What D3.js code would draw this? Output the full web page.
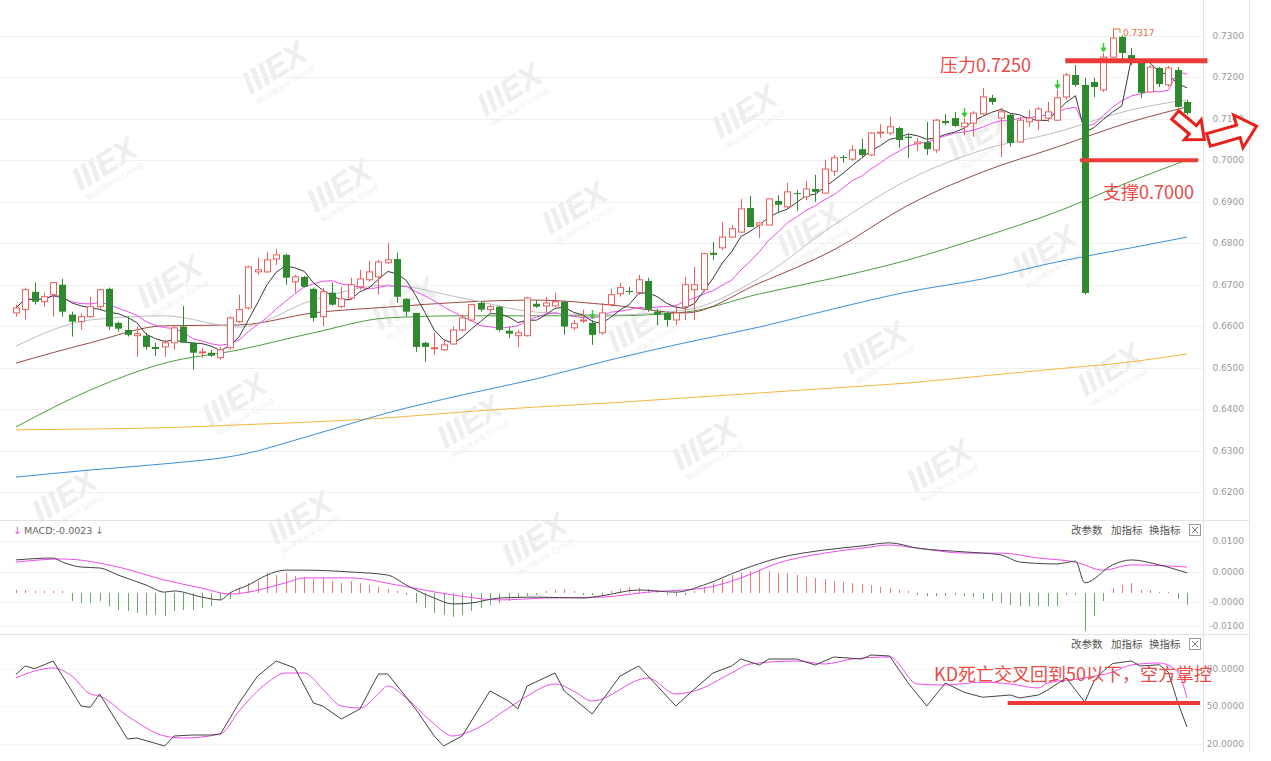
<!DOCTYPE html>
<html><head><meta charset="utf-8">
<script src="https://cdn.jsdelivr.net/npm/d3@7"></script>
<style>body{margin:0;background:#fff;} svg{display:block;font-family:"DejaVu Sans",sans-serif;}</style>
</head><body><svg id="c" width="1271" height="761"></svg>
<script>
// ---------- candle data ----------
const opens = [0.6632,0.6640,0.6683,0.6659,0.6676,0.6700,0.6628,0.6611,0.6623,0.6647,
0.6690,0.6608,0.6591,0.6577,0.6577,0.6550,0.6550,0.6560,0.6599,0.6560,
0.6536,0.6536,0.6524,0.6548,0.6611,0.6644,0.6731,0.6731,0.6762,0.6772,
0.6707,0.6719,0.6690,0.6623,0.6681,0.6647,0.6668,0.6695,0.6712,0.6719,
0.6753,0.6762,0.6666,0.6632,0.6560,0.6547,0.6543,0.6557,0.6591,0.6615,
0.6656,0.6640,0.6647,0.6589,0.6577,0.6577,0.6654,0.6649,0.6649,0.6659,
0.6596,0.6613,0.6608,0.6584,0.6652,0.6678,0.6685,0.6681,0.6709,0.6635,
0.6632,0.6615,0.6647,0.6688,0.6688,0.6777,0.6789,0.6815,0.6827,0.6885,
0.6844,0.6844,0.6902,0.6888,0.6921,0.6912,0.6931,0.6921,0.6974,0.7008,
0.7003,0.7027,0.7013,0.7066,0.7066,0.7078,0.7057,0.7040,0.7044,0.7025,
0.7095,0.7102,0.7081,0.7090,0.7112,0.7151,0.7102,0.7110,0.7044,0.7093,
0.7097,0.7102,0.7097,0.7153,0.7206,0.7182,0.7189,0.7170,0.7249,0.7298,
0.7254,0.7237,0.7165,0.7223,0.7182,0.7218,0.7141];
const highs = [0.6652,0.6693,0.6705,0.6681,0.6707,0.6714,0.6635,0.6630,0.6671,0.6690,
0.6693,0.6611,0.6623,0.6599,0.6584,0.6560,0.6567,0.6603,0.6649,0.6562,
0.6548,0.6543,0.6550,0.6623,0.6676,0.6746,0.6765,0.6779,0.6786,0.6775,
0.6724,0.6721,0.6693,0.6693,0.6705,0.6695,0.6717,0.6736,0.6757,0.6760,
0.6801,0.6777,0.6668,0.6632,0.6562,0.6584,0.6567,0.6599,0.6628,0.6654,
0.6659,0.6652,0.6649,0.6599,0.6591,0.6671,0.6663,0.6671,0.6681,0.6661,
0.6615,0.6640,0.6615,0.6656,0.6690,0.6705,0.6695,0.6724,0.6717,0.6642,
0.6635,0.6652,0.6719,0.6743,0.6777,0.6803,0.6851,0.6844,0.6907,0.6914,
0.6851,0.6909,0.6916,0.6946,0.6928,0.6950,0.6965,0.7001,0.7013,0.7013,
0.7037,0.7052,0.7068,0.7088,0.7105,0.7081,0.7064,0.7054,0.7093,0.7100,
0.7112,0.7117,0.7102,0.7119,0.7175,0.7158,0.7126,0.7112,0.7105,0.7122,
0.7129,0.7141,0.7170,0.7211,0.7230,0.7199,0.7199,0.7259,0.7317,0.7302,
0.7271,0.7242,0.7230,0.7225,0.7228,0.7225,0.7146];
const lows = [0.6623,0.6616,0.6652,0.6647,0.6623,0.6623,0.6575,0.6591,0.6620,0.6642,
0.6591,0.6587,0.6575,0.6526,0.6543,0.6528,0.6526,0.6543,0.6560,0.6495,
0.6524,0.6526,0.6519,0.6543,0.6608,0.6640,0.6724,0.6729,0.6748,0.6700,
0.6681,0.6693,0.6611,0.6599,0.6649,0.6644,0.6663,0.6688,0.6707,0.6676,
0.6750,0.6656,0.6623,0.6538,0.6514,0.6531,0.6540,0.6555,0.6587,0.6611,
0.6635,0.6632,0.6587,0.6572,0.6550,0.6575,0.6644,0.6632,0.6647,0.6579,
0.6591,0.6608,0.6555,0.6579,0.6647,0.6671,0.6676,0.6676,0.6635,0.6603,
0.6599,0.6603,0.6615,0.6615,0.6683,0.6760,0.6784,0.6813,0.6825,0.6839,
0.6813,0.6844,0.6873,0.6883,0.6878,0.6904,0.6900,0.6919,0.6962,0.6994,
0.6999,0.7008,0.7011,0.7054,0.7061,0.7030,0.7006,0.7023,0.7013,0.7018,
0.7085,0.7081,0.7061,0.7057,0.7110,0.7134,0.7008,0.7033,0.7042,0.7081,
0.7073,0.7093,0.7095,0.7146,0.7177,0.6676,0.7153,0.7165,0.7247,0.7235,
0.7230,0.7151,0.7163,0.7177,0.7177,0.7127,0.7110];
const closes = [0.6644,0.6688,0.6659,0.6671,0.6705,0.6635,0.6611,0.6623,0.6647,0.6688,
0.6599,0.6594,0.6579,0.6582,0.6550,0.6545,0.6560,0.6596,0.6560,0.6536,
0.6538,0.6529,0.6543,0.6620,0.6640,0.6743,0.6736,0.6760,0.6772,0.6717,
0.6719,0.6695,0.6620,0.6683,0.6652,0.6666,0.6700,0.6714,0.6731,0.6755,
0.6760,0.6671,0.6635,0.6550,0.6550,0.6548,0.6555,0.6591,0.6620,0.6652,
0.6640,0.6647,0.6591,0.6582,0.6584,0.6668,0.6647,0.6656,0.6659,0.6599,
0.6606,0.6615,0.6579,0.6632,0.6676,0.6693,0.6683,0.6712,0.6640,0.6628,
0.6615,0.6632,0.6700,0.6700,0.6775,0.6772,0.6815,0.6835,0.6883,0.6839,
0.6849,0.6907,0.6893,0.6924,0.6919,0.6931,0.6924,0.6979,0.7006,0.7006,
0.7025,0.7013,0.7066,0.7068,0.7081,0.7049,0.7054,0.7044,0.7027,0.7097,
0.7090,0.7083,0.7090,0.7114,0.7153,0.7141,0.7117,0.7042,0.7097,0.7102,
0.7124,0.7117,0.7151,0.7206,0.7182,0.6680,0.7177,0.7249,0.7295,0.7259,
0.7237,0.7163,0.7225,0.7184,0.7223,0.7129,0.7114];

// long moving averages, read at sample candle indices
const maIdx   = [0,8,16,24,32,40,48,56,64,72,80,88,96,104,112,120,126];
const ma20    = [0.6552,0.6615,0.6625,0.6598,0.6663,0.6699,0.6668,0.6634,0.6627,0.6639,0.6716,0.6844,0.6953,0.7025,0.7068,0.7122,0.7146];
const ma30    = [0.6511,0.6560,0.6601,0.6603,0.6632,0.6646,0.6658,0.6663,0.6651,0.6632,0.6704,0.6784,0.6892,0.6972,0.7032,0.7093,0.7129];
const ma60    = [0.6357,0.6446,0.6511,0.6543,0.6584,0.6620,0.6625,0.6625,0.6625,0.6634,0.6678,0.6716,0.6760,0.6815,0.6876,0.6950,0.7001];
const ma120   = [0.6236,0.6253,0.6268,0.6289,0.6338,0.6391,0.6434,0.6473,0.6519,0.6560,0.6598,0.6642,0.6683,0.6714,0.6755,0.6789,0.6815];
const ma250   = [0.6350,0.6352,0.6355,0.6362,0.6369,0.6379,0.6393,0.6405,0.6415,0.6427,0.6439,0.6451,0.6463,0.6480,0.6497,0.6514,0.6533];

const priceTicks = [0.62,0.63,0.64,0.65,0.66,0.67,0.68,0.69,0.70,0.71,0.72,0.73];

// MACD
const difIdx = [0,4,5,7,9,11,14,16,17,20,22,23,25,27,29,31,36,40,42,45,47,49,52,56,61,63,67,71,74,78,82,87,91,94,97,102,106,108,112,114,115,118,120,123,126];
const difVal = [0.0039,0.0045,0.0032,0.0016,0.0013,-0.0010,-0.0042,-0.0065,-0.0061,-0.0081,-0.0090,-0.0068,-0.0042,-0.0010,0.0006,0.0006,0.0000,-0.0010,-0.0042,-0.0084,-0.0103,-0.0100,-0.0084,-0.0081,-0.0084,-0.0077,-0.0058,-0.0065,-0.0042,0.0006,0.0045,0.0071,0.0084,0.0094,0.0077,0.0065,0.0055,0.0032,0.0026,0.0035,-0.0035,0.0023,0.0039,0.0023,-0.0003];
const deaIdx = [0,5,11,16,20,23,25,29,31,36,41,47,52,57,63,68,74,78,82,87,91,94,97,102,106,110,114,117,120,126];
const deaVal = [0.0032,0.0042,0.0016,-0.0026,-0.0052,-0.0071,-0.0065,-0.0035,-0.0019,-0.0019,-0.0042,-0.0074,-0.0090,-0.0084,-0.0081,-0.0065,-0.0052,-0.0019,0.0029,0.0061,0.0077,0.0087,0.0077,0.0061,0.0061,0.0045,0.0032,0.0006,0.0023,0.0016];
const macdHist = [0.0008,0.0008,0.0005,0.0005,0.0005,0.0005,-0.0020,-0.0025,-0.0025,-0.0020,
-0.0033,-0.0043,-0.0045,-0.0050,-0.0055,-0.0055,-0.0058,-0.0045,-0.0043,-0.0043,
-0.0038,-0.0033,-0.0018,-0.0015,0.0013,0.0025,0.0030,0.0050,0.0045,0.0050,
0.0043,0.0040,0.0035,0.0038,0.0030,0.0025,0.0030,0.0025,0.0020,0.0015,
0.0010,0.0005,-0.0005,-0.0025,-0.0038,-0.0050,-0.0055,-0.0060,-0.0055,-0.0045,
-0.0038,-0.0030,-0.0025,-0.0020,-0.0013,-0.0008,-0.0005,0.0005,0.0008,0.0010,
0.0005,-0.0005,-0.0005,-0.0008,0.0005,0.0010,0.0015,0.0013,0.0010,0.0008,
-0.0005,-0.0008,-0.0005,0.0005,0.0015,0.0025,0.0035,0.0045,0.0050,0.0055,
0.0058,0.0055,0.0050,0.0050,0.0045,0.0040,0.0038,0.0035,0.0030,0.0028,
0.0025,0.0023,0.0020,0.0015,0.0013,0.0008,0.0005,-0.0005,-0.0008,-0.0008,
-0.0008,-0.0005,-0.0008,-0.0010,-0.0015,-0.0020,-0.0025,-0.0030,-0.0033,-0.0033,
-0.0033,-0.0033,-0.0033,-0.0005,-0.0005,-0.0095,-0.0058,-0.0020,0.0013,0.0020,
0.0025,0.0008,0.0008,0.0003,0.0003,-0.0015,-0.0030];
const macdTickVals = [0.0100,0.0000,-0.0097,-0.0174];
const macdTickLabels = ["0.0100","0.0000","-0.0000","-0.0100"];

// KD
const kIdx = [0,1,2,4,5,7,8,9,12,13,16,17,19,21,22,24,26,28,30,32,33,35,37,39,40,43,45,46,48,51,53,54,55,58,59,62,65,67,69,71,73,75,77,78,80,81,84,86,88,91,92,94,96,98,100,102,104,107,108,110,111,113,114,115,116,117,118,120,121,123,124,125,126];
const kVal = [75.4,82,79.8,86,74,50,49,59.6,23.6,24.4,18,26,26.8,26.8,27.6,52.4,74,86,80.4,52.4,50,39.6,47.6,75.6,75.6,47.6,26,18,26,62,54,47.6,66,76.4,62,43.6,74,82,66,50,63.6,76.4,82,87.6,82.8,87.6,87.6,82.8,89.2,87.6,90.8,90,68.4,50,68.4,61,57,58.8,56.4,58.8,62.8,72.4,62.8,53.2,70,78,84,86,82,83,77,53,33.2];
const dIdx = [0,2,4,6,8,9,12,16,18,22,24,27,29,31,33,35,37,39,40,42,45,47,49,53,55,58,60,62,68,71,73,77,79,84,87,90,94,97,100,104,107,110,111,115,118,120,123,125,126];
const dVal = [72.4,78,80.4,74,59.6,58,42,26,24.4,27.6,46,68.4,76.4,76.4,63.6,50,48.4,59.6,66,56.4,35.6,26,30,48.4,58,67.6,62,54,72.4,59.6,62,76.4,83.6,86,83.6,87.6,89.2,67.6,66.8,69,67.6,64.4,68.4,72.4,77.2,82.8,84.4,77.2,56.4];
const kdTickVals = [80,50,20];
const kdTickLabels = ["80.0000","50.0000","20.0000"];

// annotations
const resistLevel = 0.7240, supportLevel = 0.7000, kdLevel = 52.4;
const signalIdx = [62,102,112,117];

// ---------- drawing ----------
const svg = d3.select('#c');
const n = closes.length;
const x = d3.scaleLinear().domain([0, n-1]).range([16, 1187]);
const y = d3.scaleLinear().domain([0.62, 0.73]).range([492, 36]);
const yMacd = d3.scaleLinear().domain([0, 0.01]).range([572, 541]);
const yHist = d3.scaleLinear().domain([-0.0093, 0.0093]).range([630, 556]);
const yKd = d3.scaleLinear().domain([20, 80]).range([743.5, 668.5]);
const red = "#e9605c", green = "#2f8a2f";

// watermarks
const wm = svg.append('g');
for (let r=-1;r<=5;r++) for (let c=-1;c<=5;c++){
  const cx = 45 + c*235 + r*65, cy = 55 + c*22 + r*118;
  if (cx<60||cx>1130||cy<50||cy>560) continue;
  const g = wm.append('g').attr('transform',`translate(${cx},${cy}) rotate(-32)`);
  g.append('text').attr('text-anchor','middle').attr('font-family','Liberation Sans').attr('font-weight','bold').attr('font-style','italic')
   .attr('font-size',32).attr('fill','#eeeeee').text('IIIEX');
  g.append('text').attr('text-anchor','middle').attr('y',12).attr('font-size',8).attr('fill','#f0f0f0').text('MultiBank Group');
}

// frame
const frame = svg.append('g').attr('stroke','#e2e2e2').attr('fill','none');
frame.append('line').attr('x1',0).attr('x2',1249).attr('y1',520.5).attr('y2',520.5);
frame.append('line').attr('x1',0).attr('x2',1249).attr('y1',634.5).attr('y2',634.5);
frame.append('line').attr('x1',1203.5).attr('x2',1203.5).attr('y1',0).attr('y2',752);
frame.append('line').attr('x1',1249.5).attr('x2',1249.5).attr('y1',0).attr('y2',752);

// grid + price axis
const grid = svg.append('g');
priceTicks.forEach(v=>{
  grid.append('line').attr('x1',0).attr('x2',1203).attr('y1',Math.round(y(v))+0.5).attr('y2',Math.round(y(v))+0.5).attr('stroke','#f0f0f0');
  grid.append('text').attr('x',1244).attr('y',y(v)+3).attr('text-anchor','end').attr('font-size',9).attr('fill','#9a9a9a').text(v.toFixed(4));
});
macdTickVals.forEach((v,i)=>{
  grid.append('line').attr('x1',0).attr('x2',1203).attr('y1',Math.round(yMacd(v))+0.5).attr('y2',Math.round(yMacd(v))+0.5).attr('stroke','#f2f2f2');
  grid.append('text').attr('x',1244).attr('y',yMacd(v)+3).attr('text-anchor','end').attr('font-size',9).attr('fill','#9a9a9a').text(macdTickLabels[i]);
});
kdTickVals.forEach((v,i)=>{
  grid.append('line').attr('x1',0).attr('x2',1203).attr('y1',Math.round(yKd(v))+0.5).attr('y2',Math.round(yKd(v))+0.5).attr('stroke','#f0f0f0').attr('stroke-dasharray','2,2');
  grid.append('text').attr('x',1244).attr('y',yKd(v)+3).attr('text-anchor','end').attr('font-size',9).attr('fill','#9a9a9a').text(kdTickLabels[i]);
});

// long MAs
const sampled = (arr)=> maIdx.map((k,i)=>[k, arr[i]]);
const lineP = d3.line().x(d=>x(d[0])).y(d=>y(d[1])).curve(d3.curveMonotoneX);
const maG = svg.append('g').attr('fill','none').attr('stroke-width',1);
[[ma250,'#f5b642'],[ma120,'#3b8fde'],[ma60,'#4a9e3e'],[ma30,'#9a4a45'],[ma20,'#bdbdbd']].forEach(([arr,col])=>{
  maG.append('path').attr('d', lineP(sampled(arr))).attr('stroke', col);
});

// candles
const cg = svg.append('g');
closes.forEach((c,i)=>{
  const o=opens[i], h=highs[i], l=lows[i];
  const up = c>=o, col = up?red:green;
  const cx = Math.round(x(i));
  cg.append('line').attr('x1',cx+0.5).attr('x2',cx+0.5).attr('y1',y(h)).attr('y2',y(l)).attr('stroke',col);
  const top = y(Math.max(o,c)), bh = Math.max(1, Math.abs(y(o)-y(c)));
  if (up) cg.append('rect').attr('x',cx-2.5).attr('y',top).attr('width',6).attr('height',bh).attr('fill','#fff').attr('stroke',col);
  else cg.append('rect').attr('x',cx-3).attr('y',top).attr('width',7).attr('height',bh).attr('fill',col);
});

// MA5 / MA10 from closes
const ma = (p)=> closes.map((c,i)=>[i, d3.mean(closes.slice(Math.max(0,i-p+1), i+1))]);
const lineL = d3.line().x(d=>x(d[0])).y(d=>y(d[1]));
maG.append('path').attr('d', lineL(ma(10))).attr('stroke','#ee4cee').attr('fill','none');
maG.append('path').attr('d', lineL(ma(5))).attr('stroke','#3a3a3a').attr('fill','none');

// signal arrows
signalIdx.forEach(i=>{
  const cx = Math.round(x(i))+0.5, yb = y(highs[i])-1;
  const g = svg.append('g').attr('stroke','#33cc33').attr('fill','#33cc33');
  g.append('line').attr('x1',cx).attr('x2',cx).attr('y1',yb-9).attr('y2',yb-3).attr('stroke-width',1.5);
  g.append('path').attr('d',`M${cx-2.5},${yb-4}L${cx+2.5},${yb-4}L${cx},${yb}Z`);
});

// max label
{
  const i = highs.indexOf(d3.max(highs));
  const cx = Math.round(x(i)), hy = y(highs[i]);
  svg.append('path').attr('d',`M${cx},${hy}L${cx+7},${hy}L${cx+7},${hy+4}`).attr('stroke','#e8703a').attr('fill','none');
  svg.append('text').attr('x',cx+10).attr('y',hy+7).attr('font-size',9).attr('fill','#e8703a').text(highs[i].toFixed(4));
}

// MACD
const mg = svg.append('g');
macdHist.forEach((v,i)=>{
  const cx = Math.round(x(i))+0.5;
  mg.append('line').attr('x1',cx).attr('x2',cx).attr('y1',yHist(0)).attr('y2',yHist(v))
    .attr('stroke', v>=0 ? '#ee7777' : '#6aa86a').attr('stroke-width',1);
});
const lineM = d3.line().x(d=>x(d[0])).y(d=>yMacd(d[1])).curve(d3.curveMonotoneX);
mg.append('path').attr('d', lineM(deaIdx.map((k,i)=>[k,deaVal[i]]))).attr('stroke','#ee4cee').attr('fill','none');
mg.append('path').attr('d', lineM(difIdx.map((k,i)=>[k,difVal[i]]))).attr('stroke','#444').attr('fill','none');

// KD
svg.append('path').attr('d', d3.line().x(d=>x(d[0])).y(d=>yKd(d[1])).curve(d3.curveMonotoneX)(dIdx.map((k,i)=>[k,dVal[i]]))).attr('stroke','#ee4cee').attr('fill','none');
svg.append('path').attr('d', d3.line().x(d=>x(d[0])).y(d=>yKd(d[1]))(kIdx.map((k,i)=>[k,kVal[i]]))).attr('stroke','#444').attr('fill','none');

// panel headers
const hdr = svg.append('g').attr('font-size',10).attr('fill','#555');
hdr.append('text').attr('x',13).attr('y',534).attr('fill','#e050e0').text('↓');
hdr.append('text').attr('x',24).attr('y',534).attr('fill','#666').attr('font-size',9.5).text('MACD:-0.0023');
hdr.append('text').attr('x',95).attr('y',534).attr('fill','#777').text('↓');
[534, 648].forEach(yy=>{
  hdr.append('text').attr('x',1071).attr('y',yy).attr('font-family','Noto Sans CJK SC').attr('font-size',10.5).text('改参数');
  hdr.append('text').attr('x',1111).attr('y',yy).attr('font-family','Noto Sans CJK SC').attr('font-size',10.5).text('加指标');
  hdr.append('text').attr('x',1149).attr('y',yy).attr('font-family','Noto Sans CJK SC').attr('font-size',10.5).text('换指标');
  hdr.append('rect').attr('x',1189.5).attr('y',yy-9.5).attr('width',11).attr('height',11).attr('fill','#fff').attr('stroke','#999');
  hdr.append('path').attr('d',`M${1192},${yy-7}L${1198},${yy-1}M${1198},${yy-7}L${1192},${yy-1}`).attr('stroke','#777');
});

// annotations
const ann = svg.append('g');
const annRed = '#ec3b36';
ann.append('line').attr('x1',x(112.9)).attr('x2',x(128.2)).attr('y1',y(resistLevel)).attr('y2',y(resistLevel)).attr('stroke',annRed).attr('stroke-width',5);
ann.append('line').attr('x1',x(114.5)).attr('x2',x(127.2)).attr('y1',y(supportLevel)).attr('y2',y(supportLevel)).attr('stroke',annRed).attr('stroke-width',4);
ann.append('line').attr('x1',x(106.7)).attr('x2',x(127.4)).attr('y1',yKd(kdLevel)).attr('y2',yKd(kdLevel)).attr('stroke',annRed).attr('stroke-width',4);
const tStyle = s=> s.attr('font-family','Noto Sans CJK SC').attr('font-size',18).attr('fill','#ea4a46');
tStyle(ann.append('text').attr('x',940).attr('y',72).text('压力0.7250'));
tStyle(ann.append('text').attr('x',1103).attr('y',199).text('支撑0.7000'));
tStyle(ann.append('text').attr('x',934).attr('y',681).text('KD死亡交叉回到50以下，空方掌控'));

function arrow(L, head, t, h){
  return `M${-L/2},${-t}L${L/2-head},${-t}L${L/2-head},${-h}L${L/2},0L${L/2-head},${h}L${L/2-head},${t}L${-L/2},${t}Z`;
}
ann.append('path').attr('d',arrow(38,15,5.5,13)).attr('transform',`translate(${x(126.3)},${y(0.7080)}) rotate(40)`)
  .attr('fill','#fff').attr('stroke','#e8201a').attr('stroke-width',3).attr('stroke-linejoin','miter');
ann.append('path').attr('d',arrow(50,19,6.5,17)).attr('transform',`translate(${x(130.9)},${y(0.7066)}) rotate(-16)`)
  .attr('fill','#fff').attr('stroke','#e8201a').attr('stroke-width',3).attr('stroke-linejoin','miter');
</script></body></html>
